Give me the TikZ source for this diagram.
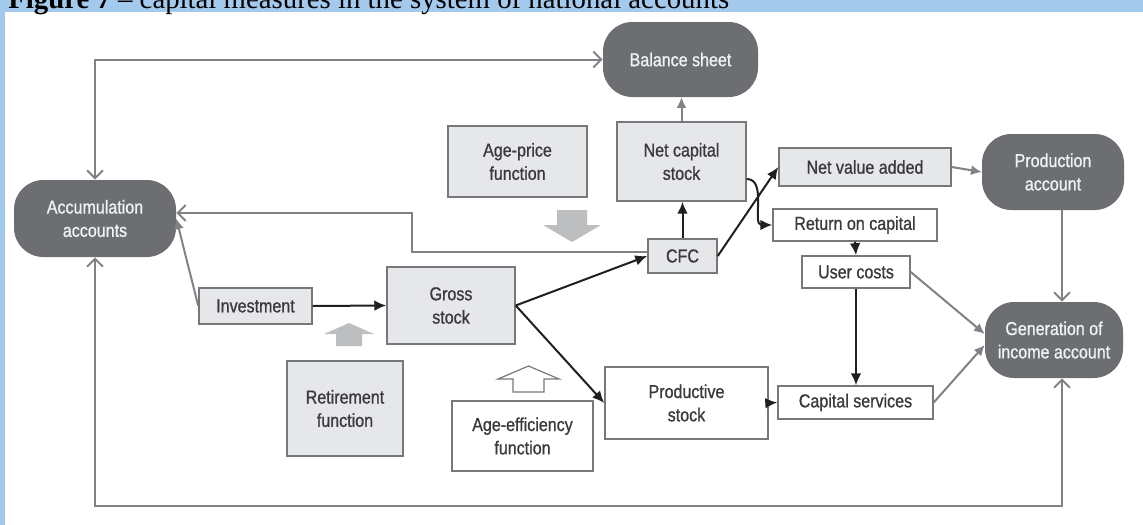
\documentclass[tikz,border=0pt]{standalone}
\usepackage{fontspec}
\setmainfont{Liberation Serif}
\newfontfamily\condf{Liberation Sans}[FakeStretch=0.86,FakeBold=0.9]
\usetikzlibrary{arrows.meta,calc}
\definecolor{bluebg}{HTML}{A3C9ED}
\definecolor{darkbox}{HTML}{6D6E71}
\definecolor{lightbox}{HTML}{E6E7E8}
\definecolor{edgegray}{HTML}{77787B}
\definecolor{linegray}{HTML}{808285}
\definecolor{inkblack}{HTML}{231F20}
\definecolor{blockgray}{HTML}{BCBEC0}
\definecolor{txtdark}{HTML}{3A3A3C}
\definecolor{txtlight}{HTML}{F1F2F2}
\begin{document}
\begin{tikzpicture}[x=0.75pt,y=-0.75pt,
  lbl/.style={font=\condf\fontsize{14}{17.5}\selectfont, align=center, inner sep=0pt},
  sz/.style 2 args={minimum width=#1*0.75pt, minimum height=#2*0.75pt},
  dnode/.style={lbl, fill=darkbox, text=txtlight, rounded corners=22pt},
  gbox/.style={lbl, draw=edgegray, line width=1.1pt, fill=lightbox, text=txtdark},
  wbox/.style={lbl, draw=edgegray, line width=1.1pt, fill=white, text=txtdark},
  blk/.style={draw=inkblack, line width=1.5pt, -{Latex[length=9pt,width=8pt]}},
  gry/.style={draw=linegray, line width=1.5pt, -{Latex[length=8pt,width=7.5pt]}},
  opn/.style={draw=linegray, line width=1.5pt, {Straight Barb[length=6pt,width=12pt]}-{Straight Barb[length=6pt,width=12pt]}},
  opn1/.style={draw=linegray, line width=1.5pt, -{Straight Barb[length=6pt,width=12pt]}},
  blockarrow/.style={fill=blockgray},
]
\useasboundingbox (0,0) rectangle (1143,525);
\fill[white] (0,0) rectangle (1143,525);
\fill[bluebg] (0,0) rectangle (1143,12);
\fill[bluebg] (0,0) rectangle (5,525);
\node[anchor=base west, inner sep=0pt, font=\fontsize{21.6}{24}\selectfont] (title) at (8,8)
  {\textbf{Figure 7} – capital measures in the system of national accounts};

% dark rounded nodes
\node[dnode, sz={155}{75}] (bal) at (680.5,59.5) {Balance sheet};
\node[dnode, sz={162}{77}] (acc) at (95,218.5) {Accumulation\\accounts};
\node[dnode, sz={142}{76}] (prod) at (1053,172) {Production\\account};
\node[dnode, sz={138}{76}] (gen) at (1054,340) {Generation of\\income account};

% grey boxes
\node[gbox, sz={129}{79}] (ncs) at (681.5,161.5) {Net capital\\stock};
\node[gbox, sz={139}{71}] (agep) at (517.5,161.5) {Age-price\\function};
\node[gbox, sz={69}{34}] (cfc) at (682.5,256) {CFC};
\node[gbox, sz={113}{36}] (inv) at (255.5,306) {Investment};
\node[gbox, sz={128}{77}] (gross) at (451,305.5) {Gross\\stock};
\node[gbox, sz={116}{95}] (ret) at (345,408.5) {Retirement\\function};
\node[gbox, sz={172}{38}] (nva) at (865,167) {Net value added};

% white boxes
\node[wbox, sz={141}{70}] (agee) at (522.5,436) {Age-efficiency\\function};
\node[wbox, sz={163}{72}] (pstock) at (686.5,403) {Productive\\stock};
\node[wbox, sz={164}{32}] (roc) at (855,225) {Return on capital};
\node[wbox, sz={108}{32}] (uc) at (856,272) {User costs};
\node[wbox, sz={155}{33}] (cs) at (855.5,402.5) {Capital services};

% block arrows
\fill[blockarrow] (557,210) -- (587,210) -- (587,225) -- (601,225) -- (572,242) -- (543,225) -- (557,225) -- cycle;
\fill[blockarrow] (336,346) -- (362,346) -- (362,334) -- (374,334) -- (349,323) -- (324,334) -- (336,334) -- cycle;
\draw[draw=edgegray, line width=0.9pt, fill=white] (513,392) -- (544,392) -- (544,379) -- (559,379) -- (528.5,366) -- (498,379) -- (513,379) -- cycle;

% grey open-headed loops
\draw[opn] (acc.north) |- (bal.west);
\coordinate (b1) at (95,506);
\coordinate (b2) at (1062,506);
\draw[opn] (acc.south) -- (b1) -- (b2) -- (b2 |- gen.south);
\coordinate (k1) at (412,252);
\coordinate (k2) at (412,213);
\draw[opn1] (cfc.west |- k1) -- (k1) -- (k2) -- (k2 -| acc.east);
\draw[opn1] (prod.south -| b2) -- (gen.north -| b2);

% grey filled-head arrows
\draw[gry] (inv.west) -- (acc.east);
\draw[gry] (ncs.north) -- (ncs.north |- bal.south);
\draw[gry] (nva.east) -- (prod.west);
\draw[gry] (uc.east) -- ($(gen.west)+(0,-6)$);
\draw[gry] (cs.east) -- ($(gen.west)+(0,5)$);

% black arrows
\draw[blk] (inv.east) -- (gross.west);
\draw[blk] (gross.east) -- (cfc.west);
\draw[blk] (gross.east) -- (pstock.west);
\draw[blk] (cfc.north) -- (cfc.north |- ncs.south);
\draw[blk] (cfc.east) -- (nva.west);
\draw[blk] ($(ncs.east)+(0,17.5)$) to[out=0,in=180] (roc.west);
\draw[blk] (roc.south) -- (uc.north);
\draw[blk] (uc.south) -- (uc.south |- cs.north);
\draw[blk] (pstock.east) -- (cs.west);
\end{tikzpicture}
\end{document}
